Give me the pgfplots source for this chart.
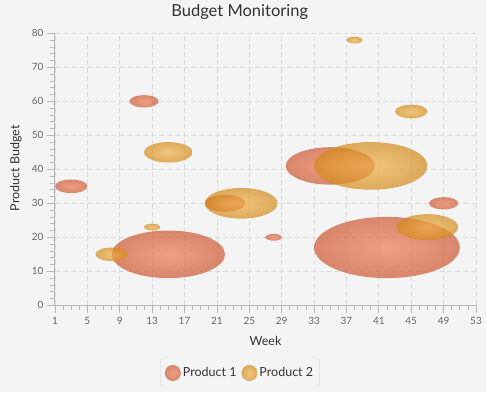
\documentclass[border=0pt]{standalone}
\usepackage{pgfplots}
\pgfplotsset{compat=1.18}
\usepackage{pgfplotstable}
\usepackage{fontspec}
\setmainfont{Lato}
\definecolor{bgc}{HTML}{F4F4F4}
\definecolor{gridc}{HTML}{DADADA}
\definecolor{axisc}{HTML}{B8B8B8}
\definecolor{tickc}{HTML}{666666}
\definecolor{textc}{HTML}{333333}
\definecolor{legc}{HTML}{E0E0E0}
\definecolor{pAin}{HTML}{EE7C54}
\definecolor{pAout}{HTML}{CC5732}
\definecolor{pBin}{HTML}{F1B249}
\definecolor{pBout}{HTML}{D28A1B}
\pgfdeclareplotmark{nomark}{}
\pgfplotstableread{
x y r
3 35 2
12 60 1.8
15 15 7
22 30 2.5
28 20 1
35 41 5.5
42 17 9
49 30 1.8
}\productA
\pgfplotstableread{
x y r
8 15 2
13 23 1
15 45 3
24 30 4.5
38 78 1
40 41 7
45 57 2
47 23 3.8
}\productB
\begin{document}
\begin{tikzpicture}[x=1pt,y=1pt]
\useasboundingbox[fill=bgc] (0,0) rectangle (486,392);
\begin{axis}[
  at={(55pt,86.7pt)}, anchor=south west,
  scale only axis, width=421pt, height=272pt,
  xmin=1, xmax=53, ymin=0, ymax=80,
  xtick={1,5,...,53}, ytick={0,10,...,80},
  minor x tick num=3, minor y tick num=4,
  axis lines=left, axis line style={draw=axisc, -, line width=1pt},
  tick align=outside, major tick length=8pt, minor tick length=5pt,
  tick style={draw=axisc, line width=0.8pt},
  grid=major, major grid style={draw=gridc, dash pattern=on 5pt off 3pt, line width=0.8pt},
  ticklabel style={font=\fontsize{10}{12}\selectfont, text=tickc},
  /pgf/number format/assume math mode=true,
  title={Budget Monitoring},
  every axis title/.style={at={(0.4387,1.061)}, anchor=base, font=\fontsize{16.5}{19}\selectfont, text=textc},
  xlabel={Week},
  every axis x label/.style={at={(0.5,-0.1496)}, anchor=base, font=\fontsize{12.5}{15}\selectfont, text=textc},
  ylabel={Product Budget},
  every axis y label/.style={at={(-0.0848,0.5037)}, anchor=base, rotate=90, font=\fontsize{12.5}{15}\selectfont, text=textc},
  legend style={at={(0.4394,-0.2489)}, anchor=center, draw=legc, fill=bgc, rounded corners=3pt,
    font=\fontsize{12.5}{15}\selectfont, text=textc, inner xsep=4.5pt, inner ysep=7pt,
    /tikz/every even column/.append style={column sep=3pt}},
  legend columns=2, legend cell align=left,
]
\addplot[
  scatter, only marks, mark=nomark,
  visualization depends on={\thisrow{r} \as \rad},
  scatter/@pre marker code/.code={%
    \shade[draw=none, inner color=pAin, outer color=pAout, opacity=0.7] (0pt,0pt) ellipse [x radius=\rad*8.096pt, y radius=\rad*3.4pt];},
  scatter/@post marker code/.code={},
  legend image code/.code={\shade[draw=none, inner color=pAin, outer color=pAout, opacity=0.7] (8pt,0pt) circle (8pt);},
] table[x=x, y=y] {\productA};
\addlegendentry{Product 1}
\addplot[
  scatter, only marks, mark=nomark,
  visualization depends on={\thisrow{r} \as \rad},
  scatter/@pre marker code/.code={%
    \shade[draw=none, inner color=pBin, outer color=pBout, opacity=0.7] (0pt,0pt) ellipse [x radius=\rad*8.096pt, y radius=\rad*3.4pt];},
  scatter/@post marker code/.code={},
  legend image code/.code={\shade[draw=none, inner color=pBin, outer color=pBout, opacity=0.7] (8pt,0pt) circle (8pt);},
] table[x=x, y=y] {\productB};
\addlegendentry{Product 2}
\end{axis}
\end{tikzpicture}
\end{document}
